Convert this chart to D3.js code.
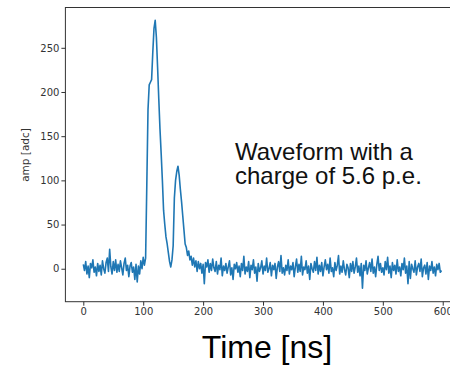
<!DOCTYPE html>
<html>
<head>
<meta charset="utf-8">
<script src="https://cdn.jsdelivr.net/npm/d3@7"></script>
<style>
  body { margin: 0; background: #fff; }
  svg { display: block; }
</style>
</head>
<body>
<div id="chart"></div>
<script>
// sample step of the waveform (ns)
const step = 2;

// amplitude [adc], one value per 2 ns, starting at t = 0
const amp = [
  5, -2, 8, -6, 3, -10, 6, 1, 10, -4,
  2, -8, 6, -3, 4, -7, 9, 0, -5, 7,
  12, -3, 22, 2, -6, 8, -2, 10, -4, 5,
  -3, 9, 1, -7, 6, 12, -2, 4, -9, 3,
  7, -4, 2, -12, 5, -15, 3, -6, 9, 0,
  13, 4, 12, 95, 180, 208, 211, 214, 245, 272,
  281, 262, 228, 192, 158, 130, 100, 66, 50, 36,
  28, 18, 8, 2, 10, 26, 80, 100, 110, 116,
  106, 90, 76, 60, 44, 28, 24, 15, 20, 10,
  14, 4, 12, 2, 9, -3, 8, 0, 6, -5,
  5, -17, 7, 2, 10, -4, 6, -2, 11, 1,
  -3, 8, -6, 4, -1, 12, -8, 3, -2, 6,
  -5, 2, 9, -7, 1, -12, 5, 0, 7, -4,
  3, -9, 6, -2, 14, -6, 2, -3, 8, -10,
  4, -1, 10, -5, 2, -14, 6, -3, 1, 9,
  -6, 3, -2, 12, -4, 0, 7, -8, 4, -1,
  6, -11, 2, 8, -3, 15, -5, 1, -7, 4,
  -2, 10, -6, 3, -1, 7, -9, 2, 11, -4,
  5, -3, 14, -7, 2, -1, 9, -5, 3, -12,
  6, 0, -4, 8, -2, 13, -6, 4, -3, 7,
  -8, 2, 10, -1, 5, -5, 12, -3, 1, -9,
  7, -2, 4, 15, -6, 3, -4, 9, -1, -7,
  5, 1, -10, 6, -3, 8, -5, 2, 12, -4,
  3, -8, 6, -22, 4, -2, 9, -6, 1, 7,
  -3, 11, -5, 2, -9, 5, 14, -2, 6, -4,
  1, -7, 8, -1, 13, -5, 3, -10, 7, -2,
  4, -6, 10, -3, 2, -8, 6, -1, 12, -5,
  3, -17, 8, -11, 5, 0, -4, 9, -7, 2,
  6, -3, 11, -9, 1, 4, -6, 7, -12, 3,
  -2, 8, -5, 2, -8, 5, -1, 6, -4, -2
];

const xTicks = [0, 100, 200, 300, 400, 500, 600];
const yTicks = [0, 50, 100, 150, 200, 250];
const noteLines = ["Waveform with a", "charge of 5.6 p.e."];

const width = 450, height = 365;

const svg = d3.select("#chart").append("svg")
  .attr("width", width)
  .attr("height", height);

// plot box, right side runs off the picture
const x = d3.scaleLinear().domain([-29.9, 630]).range([65.4, 460.7]);
const y = d3.scaleLinear().domain([-37.3, 295.6]).range([301.7, 7.5]);

const data = amp.map((v, i) => ({ t: i * step, v: v }));

// waveform
svg.append("path")
  .datum(data)
  .attr("fill", "none")
  .attr("stroke", "#1f77b4")
  .attr("stroke-width", 1.6)
  .attr("stroke-linejoin", "round")
  .attr("d", d3.line().x(d => x(d.t)).y(d => y(d.v)));

// frame
svg.append("rect")
  .attr("x", x.range()[0])
  .attr("y", y.range()[1])
  .attr("width", x.range()[1] - x.range()[0])
  .attr("height", y.range()[0] - y.range()[1])
  .attr("fill", "none")
  .attr("stroke", "#333")
  .attr("stroke-width", 1);

// axes
const xAxis = svg.append("g")
  .attr("transform", "translate(0," + y.range()[0] + ")")
  .call(d3.axisBottom(x).tickValues(xTicks).tickSize(4).tickPadding(2).tickSizeOuter(0));

const yAxis = svg.append("g")
  .attr("transform", "translate(" + x.range()[0] + ",0)")
  .call(d3.axisLeft(y).tickValues(yTicks).tickSize(4).tickPadding(2).tickSizeOuter(0));

[xAxis, yAxis].forEach(g => {
  g.select(".domain").remove();
  g.selectAll(".tick line").attr("stroke", "#333");
  g.selectAll(".tick text")
    .attr("fill", "#333")
    .style("font-family", "DejaVu Sans")
    .style("font-size", "10px");
});

// axis labels
svg.append("text")
  .attr("transform", "translate(29,155) rotate(-90)")
  .attr("text-anchor", "middle")
  .style("font-family", "DejaVu Sans")
  .style("font-size", "10.5px")
  .attr("fill", "#333")
  .text("amp [adc]");

svg.append("text")
  .attr("x", 267)
  .attr("y", 358)
  .attr("text-anchor", "middle")
  .style("font-family", "Liberation Sans")
  .style("font-size", "32px")
  .attr("fill", "#000")
  .text("Time [ns]");

// annotation
svg.append("g").selectAll("text")
  .data(noteLines)
  .join("text")
  .attr("x", 235)
  .attr("y", (d, i) => 160 + i * 24)
  .style("font-family", "Liberation Sans")
  .style("font-size", "24px")
  .attr("fill", "#111")
  .text(d => d);
</script>
</body>
</html>
